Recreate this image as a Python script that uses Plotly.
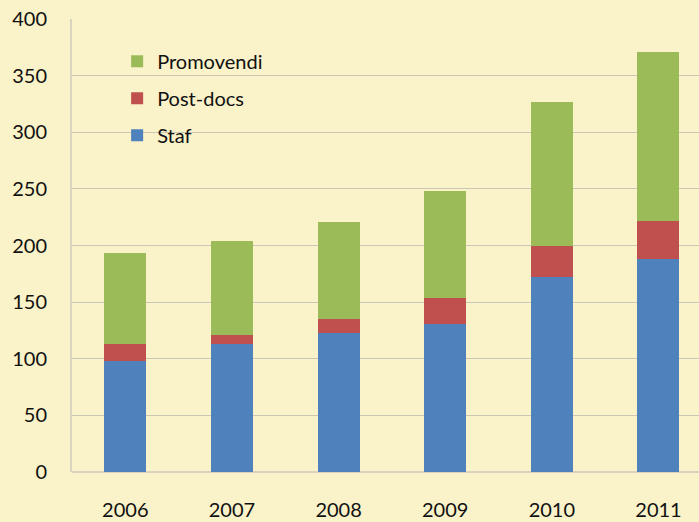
import plotly.graph_objects as go

years = ["2006", "2007", "2008", "2009", "2010", "2011"]
staf = [98, 113, 122.5, 131, 172, 188]
postdocs = [15, 8, 12.5, 23, 27.5, 33.5]
promovendi = [80, 83, 86, 94, 127, 149]
y_ticks = [0, 50, 100, 150, 200, 250, 300, 350, 400]

colors = {"Staf": "#4F81BD", "Post-docs": "#C0504D", "Promovendi": "#9BBB59"}
ranks = {"Staf": 3, "Post-docs": 2, "Promovendi": 1}
FONT = "Lato, 'Open Sans', sans-serif"

fig = go.Figure()
for name, vals in [("Staf", staf), ("Post-docs", postdocs), ("Promovendi", promovendi)]:
    fig.add_trace(go.Bar(
        x=years, y=vals, name=name, legendgroup=name, legendrank=ranks[name],
        marker=dict(color=colors[name], line=dict(width=0)),
    ))

fig.update_layout(
    width=699, height=522,
    barmode="stack", bargap=0.606,
    paper_bgcolor="#FAF2C8", plot_bgcolor="#FAF2C8",
    margin=dict(l=72, r=0, t=19, b=50),
    font=dict(family=FONT, size=20, color="#111111"),
    showlegend=True,
    legend=dict(
        x=0.072, y=0.95, xanchor="left", yanchor="top",
        traceorder="grouped", tracegroupgap=8,
        bgcolor="rgba(0,0,0,0)", font=dict(size=20),
    ),
    xaxis=dict(
        range=[-0.5, 5.38], showgrid=False, showline=False,
        ticks="", ticklabelstandoff=24, zeroline=False, automargin=False,
    ),
    yaxis=dict(
        range=[0, 400], tickvals=y_ticks, showgrid=True,
        gridcolor="#CAC7B4", gridwidth=1,
        showline=True, linecolor="#D8D4BE", linewidth=2,
        ticks="", ticklabelstandoff=19, zeroline=True,
        zerolinecolor="#D8D4BE", zerolinewidth=2, automargin=False,
    ),
)

fig.write_html(
    "out.html",
    config={"displayModeBar": False},
    post_script="document.body.style.margin='0px';document.body.style.background='#FAF2C8';",
)
